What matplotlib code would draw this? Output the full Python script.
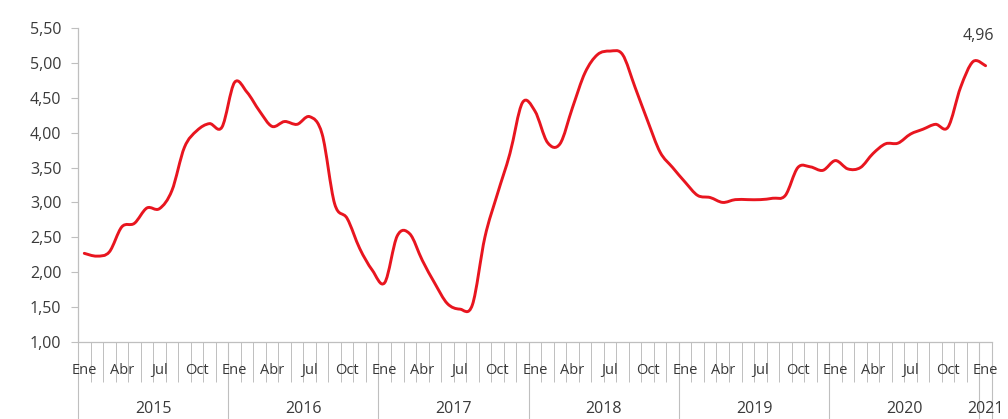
#!/usr/bin/env python3
"""
Monthly series Jan 2015 - Jan 2021, smoothed red line with month/year axis.
"""

import matplotlib

matplotlib.use("Agg")
import matplotlib.pyplot as plt
from matplotlib.path import Path
from matplotlib.patches import PathPatch

plt.rcParams["font.family"] = ["Open Sans", "DejaVu Sans"]

# --- data -------------------------------------------------------------
years = ["2015", "2016", "2017", "2018", "2019", "2020", "2021"]
month_names = ["Ene", "Feb", "Mar", "Abr", "May", "Jun",
               "Jul", "Ago", "Sep", "Oct", "Nov", "Dic"]
shown_months = ["Ene", "Abr", "Jul", "Oct"]

values = [
    # 2015
    2.27, 2.23, 2.29, 2.65, 2.70, 2.92, 2.91, 3.17, 3.79, 4.03, 4.13, 4.08,
    # 2016
    4.72, 4.58, 4.31, 4.09, 4.16, 4.12, 4.23, 3.98, 2.98, 2.77, 2.34, 2.03,
    # 2017
    1.85, 2.52, 2.55, 2.17, 1.84, 1.55, 1.47, 1.53, 2.50, 3.12, 3.70, 4.43,
    # 2018
    4.31, 3.86, 3.84, 4.36, 4.86, 5.12, 5.17, 5.12, 4.65, 4.17, 3.72, 3.50,
    # 2019
    3.29, 3.10, 3.07, 3.00, 3.04, 3.04, 3.04, 3.06, 3.10, 3.50, 3.51, 3.46,
    # 2020
    3.60, 3.48, 3.50, 3.70, 3.84, 3.85, 3.98, 4.05, 4.12, 4.08, 4.65, 5.02,
    # 2021
    4.96,
]
last_label = "4,96"

LINE_RED = "#E8151F"
AXIS_GRAY = "#BFBFBF"
TEXT_GRAY = "#3A3A3A"


def smooth_path(xs, ys):
    """Bezier path through the points (Excel-style smoothed line)."""
    n = len(xs)
    verts = [(xs[0], ys[0])]
    codes = [Path.MOVETO]
    for i in range(n - 1):
        x0, y0 = xs[max(i - 1, 0)], ys[max(i - 1, 0)]
        x1, y1 = xs[i], ys[i]
        x2, y2 = xs[i + 1], ys[i + 1]
        x3, y3 = xs[min(i + 2, n - 1)], ys[min(i + 2, n - 1)]
        c1 = (x1 + (x2 - x0) / 6, y1 + (y2 - y0) / 6)
        c2 = (x2 - (x3 - x1) / 6, y2 - (y3 - y1) / 6)
        verts += [c1, c2, (x2, y2)]
        codes += [Path.CURVE4] * 3
    return Path(verts, codes)


def main():
    fig = plt.figure(figsize=(10.08, 4.19), dpi=100)
    ax = fig.add_axes([0.0774, 0.184, 0.9066, 0.749])

    n = len(values)
    xs = [i + 0.5 for i in range(n)]

    ax.add_patch(PathPatch(smooth_path(xs, values), facecolor="none",
                           edgecolor=LINE_RED, linewidth=2.1,
                           capstyle="round", joinstyle="round"))

    ax.set_xlim(0, n)
    ax.set_ylim(1.0, 5.5)

    # y axis
    yticks = [1.0 + 0.5 * k for k in range(10)]
    ax.set_yticks(yticks)
    ax.set_yticklabels([f"{t:.2f}".replace(".", ",") for t in yticks])
    ax.tick_params(axis="y", direction="out", length=5, width=0.8,
                   color=AXIS_GRAY, labelcolor=TEXT_GRAY, labelsize=11.5,
                   pad=7)

    # x axis: month boundary ticks (minor), year separators (major)
    ax.set_xticks(list(range(n + 1)), minor=True)
    year_bounds = [12 * k for k in range(len(years))] + [n]
    ax.set_xticks(year_bounds)
    ax.set_xticklabels([])
    ax.tick_params(axis="x", which="minor", direction="out", length=29,
                   width=0.7, color=AXIS_GRAY)
    ax.tick_params(axis="x", which="major", direction="out", length=56,
                   width=0.8, color=AXIS_GRAY)

    for s in ["top", "right"]:
        ax.spines[s].set_visible(False)
    for s in ["left", "bottom"]:
        ax.spines[s].set_color(AXIS_GRAY)
        ax.spines[s].set_linewidth(0.9)

    trans = ax.get_xaxis_transform()
    for i in range(n):
        name = month_names[i % 12]
        if name in shown_months:
            ax.text(i + 0.5, -0.09, name, transform=trans, ha="center",
                    va="center", fontsize=10.5, color=TEXT_GRAY, clip_on=False)

    for k, yr in enumerate(years):
        start = 12 * k
        end = min(start + 12, n)
        ax.text((start + end) / 2, -0.213, yr, transform=trans, ha="center",
                va="center", fontsize=11.5, color=TEXT_GRAY, clip_on=False)

    ax.annotate(last_label, xy=(xs[-1], values[-1]), xytext=(-5, 16),
                textcoords="offset points", ha="center", va="bottom",
                fontsize=11.5, color=TEXT_GRAY)

    fig.savefig("out.png", dpi=100)
    plt.close(fig)


if __name__ == "__main__":
    main()
